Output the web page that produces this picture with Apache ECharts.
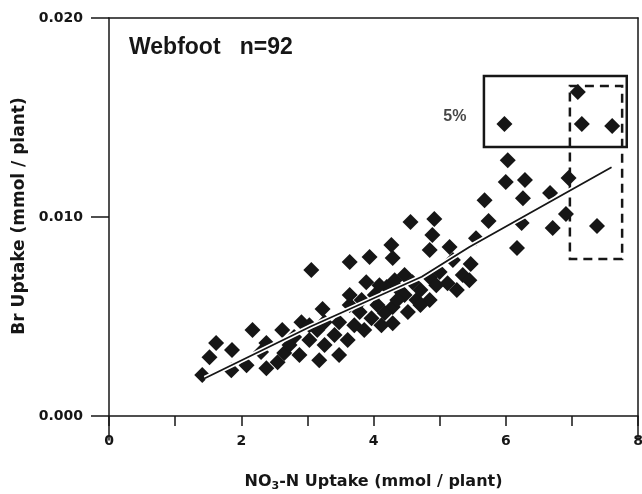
<!DOCTYPE html>
<html><head><meta charset="utf-8">
<script src="https://cdn.jsdelivr.net/npm/echarts@6/dist/echarts.min.js"></script>
<style>html,body{margin:0;padding:0;background:#fff}#c{width:642px;height:494px}</style>
</head><body><div id="c"></div>
<script>
// NO3-N uptake (mmol / plant)
const nitrate = [5.98,7.09,7.15,7.61,7.38,6.03,6.00,6.29,6.26,5.68,5.74,6.24,6.67,6.95,6.91,6.71,5.55,6.17,5.47,
  4.56,4.92,4.89,4.85,4.27,4.29,5.15,5.20,5.35,5.12,4.85,4.59,4.39,4.20,4.85,4.65,4.29,4.17,4.29,4.47,
  3.06,3.64,3.94,3.23,2.91,2.17,1.62,1.52,1.41,1.86,1.85,2.08,2.38,2.38,2.65,2.80,2.30,2.73,2.88,3.03,
  3.15,3.26,3.41,3.48,3.61,3.71,3.79,3.86,3.97,4.06,4.12,4.02,3.82,3.64,4.32,4.47,4.09,4.36,4.52,3.48,
  3.18,2.55,4.71,4.95,5.00,3.26,3.89,3.64,5.26,5.45,2.62,3.03,4.71];
// Br uptake (mmol / plant)
const bromide = [0.01467,0.01628,0.01467,0.01457,0.00955,0.01286,0.01176,0.01186,0.01095,0.01085,0.00980,0.00970,0.01121,0.01196,0.01015,0.00945,0.00894,0.00844,0.00764,
  0.00975,0.00990,0.00910,0.00834,0.00859,0.00794,0.00849,0.00784,0.00709,0.00668,0.00698,0.00673,0.00633,0.00648,0.00583,0.00583,0.00548,0.00518,0.00467,0.00608,
  0.00734,0.00774,0.00799,0.00538,0.00472,0.00432,0.00367,0.00296,0.00206,0.00332,0.00231,0.00256,0.00367,0.00241,0.00317,0.00397,0.00322,0.00357,0.00307,0.00382,
  0.00432,0.00357,0.00407,0.00472,0.00382,0.00457,0.00523,0.00432,0.00492,0.00558,0.00457,0.00608,0.00583,0.00558,0.00683,0.00709,0.00658,0.00583,0.00523,0.00307,
  0.00281,0.00271,0.00633,0.00658,0.00724,0.00472,0.00673,0.00608,0.00633,0.00683,0.00432,0.00457,0.00558];
// fitted line
const trendX = [1.45, 3.05, 4.73, 5.45, 7.6];
const trendY = [0.0019, 0.0045, 0.0070, 0.0085, 0.0125];
// axis labels
const xLabelValues = [0, 2, 4, 6, 8];
const xTickValues = [0, 1, 2, 3, 4, 5, 6, 7, 8];
const yLabelValues = [0, 0.01, 0.02];
// annotation boxes (corners in data units)
const boxSolid = [[5.67, 0.01709], [7.83, 0.01352]];
const boxDashed = [[6.97, 0.01658], [7.76, 0.00789]];
const noteText = '5%';
const notePos = [5.23, 0.01503];
const titleText = 'Webfoot   n=92';

const ink = '#161616';
const chart = echarts.init(document.getElementById('c'));
const pts = nitrate.map((x, i) => [x, bromide[i]]);
const trend = trendX.map((x, i) => [x, trendY[i]]);
const tickFont = {color: ink, fontFamily: 'DejaVu Sans', fontWeight: 'bold', fontSize: 14};

chart.setOption({
  animation: false,
  backgroundColor: '#fff',
  title: {text: titleText, left: 124, top: 31,
    textStyle: {color: ink, fontFamily: 'Liberation Sans', fontWeight: 'bold', fontSize: 23}},
  grid: {left: 109, right: 4, top: 18, bottom: 54, outerBoundsMode: 'none', containLabel: false},
  xAxis: [{
    type: 'value', min: 0, max: 8, position: 'bottom',
    axisLine: {onZero: true, lineStyle: {color: ink, width: 1.5}},
    axisTick: {show: true, length: 10, customValues: xTickValues, lineStyle: {color: ink, width: 1.5}},
    axisLabel: {customValues: xLabelValues, margin: -6, ...tickFont},
    splitLine: {show: false},
    name: '{n|NO}{s|3}{n|-N Uptake (mmol / plant)}', nameLocation: 'middle', nameGap: 31,
    nameTextStyle: {rich: {
      n: {color: ink, fontFamily: 'DejaVu Sans', fontWeight: 'bold', fontSize: 16},
      s: {color: ink, fontFamily: 'DejaVu Sans', fontWeight: 'bold', fontSize: 11, padding: [10, 0, 0, 0]}}}
  }, {
    type: 'value', min: 0, max: 8, position: 'top',
    axisLine: {onZero: false, lineStyle: {color: ink, width: 1.5}},
    axisTick: {show: false}, axisLabel: {show: false}, splitLine: {show: false}
  }],
  yAxis: [{
    type: 'value', min: -0.0012, max: 0.02, position: 'left',
    axisLine: {show: true, onZero: false, lineStyle: {color: ink, width: 1.5}},
    axisTick: {show: true, length: 18, customValues: yLabelValues, lineStyle: {color: ink, width: 1.5}},
    axisLabel: {customValues: yLabelValues, margin: 26, formatter: v => v.toFixed(3), ...tickFont},
    splitLine: {show: false},
    name: 'Br Uptake (mmol / plant)', nameLocation: 'middle', nameGap: 72,
    nameTextStyle: {color: ink, fontFamily: 'DejaVu Sans', fontWeight: 'bold', fontSize: 17, padding: [0, 0, 0, 26]}
  }, {
    type: 'value', min: -0.0012, max: 0.02, position: 'right',
    axisLine: {show: true, onZero: false, lineStyle: {color: ink, width: 1.5}},
    axisTick: {show: false}, axisLabel: {show: false}, splitLine: {show: false}
  }],
  series: [{
    type: 'scatter', data: pts, symbol: 'diamond', symbolSize: 16,
    itemStyle: {color: ink, opacity: 1}, z: 2,
    markArea: {silent: true, data: [
      [{coord: boxSolid[0], itemStyle: {color: 'rgba(0,0,0,0)', borderColor: ink, borderWidth: 2.5, borderType: 'solid'}}, {coord: boxSolid[1]}],
      [{coord: boxDashed[0], itemStyle: {color: 'rgba(0,0,0,0)', borderColor: ink, borderWidth: 2.5, borderType: [9, 6]}}, {coord: boxDashed[1]}]
    ]}
  }, {
    type: 'line', data: trend, showSymbol: false, symbol: 'none', z: 3,
    lineStyle: {color: '#fff', width: 5}
  }, {
    type: 'line', data: trend, showSymbol: false, symbol: 'none', z: 4,
    lineStyle: {color: ink, width: 1.8}
  }, {
    type: 'scatter', data: [notePos], symbolSize: 0, z: 5,
    label: {show: true, position: 'inside', formatter: noteText, color: ink,
      fontFamily: 'Liberation Sans', fontWeight: 'bold', fontSize: 16}
  }]
});
</script>
</body></html>
